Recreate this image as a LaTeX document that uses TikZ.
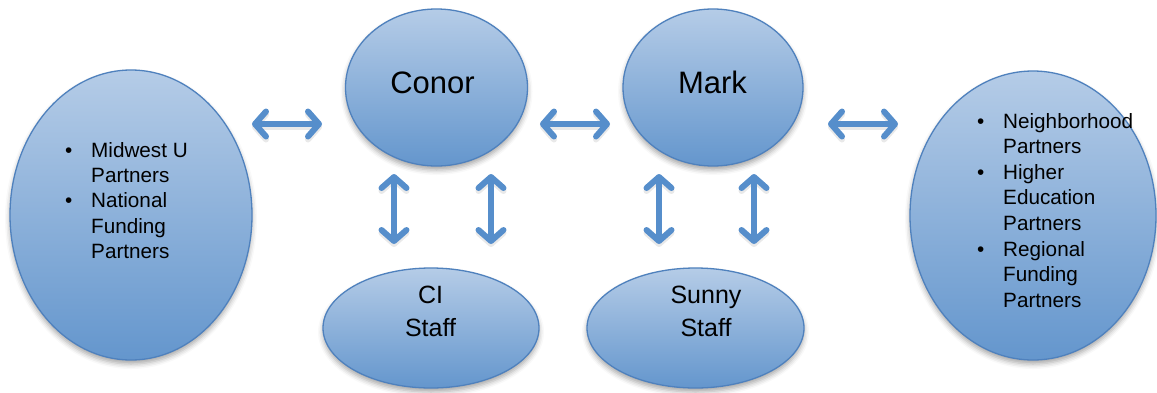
\documentclass[tikz,border=0pt]{standalone}
\usepackage{fontspec}
\setmainfont{Liberation Sans}
\usetikzlibrary{shapes.geometric,arrows.meta,shadows.blur}
\definecolor{ellTop}{RGB}{181,204,231}
\definecolor{ellBot}{RGB}{100,150,205}
\definecolor{ellLine}{RGB}{79,129,189}
\definecolor{arrBlue}{RGB}{86,142,203}
\tikzset{
  bubble/.style={ellipse, draw=ellLine, line width=1.3pt, top color=ellTop, bottom color=ellBot,
    inner sep=0pt, blur shadow={shadow xshift=0pt, shadow yshift=-4pt, shadow blur radius=5pt, shadow opacity=35}},
  barb/.tip={Straight Barb[length=11pt,width=25pt,round]},
  link/.style={draw=arrBlue, line width=6pt, barb-barb},
  bigname/.style={font=\fontsize{31}{36}\selectfont, inner sep=0pt, anchor=base},
  staffname/.style={font=\fontsize{25}{33.5}\selectfont, inner sep=0pt, anchor=base},
  bullets/.style={font=\fontsize{20.7}{25.4}\selectfont, inner sep=0pt, anchor=base west},
}
\newcommand{\bul}{\makebox[26pt][l]{\textbullet}}
\begin{document}
\begin{tikzpicture}[x=1pt,y=-1pt]
\useasboundingbox (0,0) rectangle (1157,392);
% ellipses
\node[bubble, minimum width=242pt, minimum height=290pt] (left) at (131,215) {};
\node[bubble, minimum width=182pt, minimum height=157pt] (conor) at (436.5,87.5) {};
\node[bubble, minimum width=180pt, minimum height=157pt] (mark) at (713,87.5) {};
\node[bubble, minimum width=246pt, minimum height=289pt] (right) at (1033,215.5) {};
\node[bubble, minimum width=216pt, minimum height=120pt] (ci) at (431,328) {};
\node[bubble, minimum width=217pt, minimum height=120pt] (sunny) at (695.5,328) {};
% texts
\node[bigname] (conorT) at (432.5,93) {Conor};
\node[bigname] (markT) at (712.5,93) {Mark};
\node[staffname] (ciT) at (430.5,303) {\begin{tabular}[t]{@{}c@{}}CI\\Staff\end{tabular}};
\node[staffname] (sunnyT) at (706,303) {\begin{tabular}[t]{@{}c@{}}Sunny\\Staff\end{tabular}};
\node[bullets] (leftT) at (65,157) {\begin{tabular}[t]{@{}l@{}l@{}}
\bul & Midwest U\\
 & Partners\\
\bul & National\\
 & Funding\\
 & Partners
\end{tabular}};
\node[bullets, font=\fontsize{20.7}{25.6}\selectfont] (rightT) at (977,128) {\begin{tabular}[t]{@{}l@{}l@{}}
\bul & Neighborhood\\
 & Partners\\
\bul & Higher\\
 & Education\\
 & Partners\\
\bul & Regional\\
 & Funding\\
 & Partners
\end{tabular}};
% arrow end points
\coordinate (h1a) at (252,124); \coordinate (h1b) at (322,124);
\coordinate (h2a) at (540,124); \coordinate (h2b) at (610,124);
\coordinate (h3a) at (828,124); \coordinate (h3b) at (898,124);
\coordinate (v1a) at (394,174); \coordinate (v1b) at (394,244);
\coordinate (v2a) at (491,174); \coordinate (v2b) at (491,244);
\coordinate (v3a) at (659,174); \coordinate (v3b) at (659,244);
\coordinate (v4a) at (754,174); \coordinate (v4b) at (754,244);
\foreach \a/\b in {h1a/h1b,h2a/h2b,h3a/h3b,v1a/v1b,v2a/v2b,v3a/v3b,v4a/v4b}{
  \draw[link, draw=black!35, opacity=0.25, transform canvas={yshift=-3pt}] (\a) -- (\b);
  \draw[link] (\a) -- (\b);
}
\end{tikzpicture}
\end{document}
